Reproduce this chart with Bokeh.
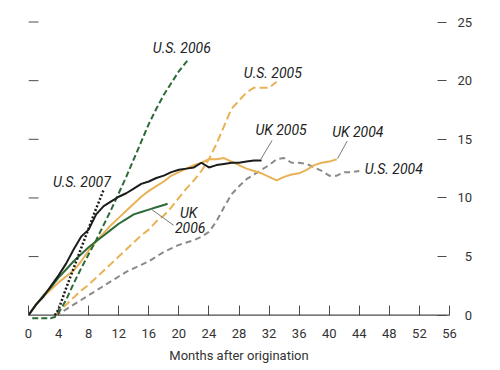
import math
from bokeh.plotting import figure
from bokeh.models import Range1d, FixedTicker, ColumnDataSource, Span
from bokeh.core.properties import value
from bokeh.embed import file_html
from bokeh.resources import INLINE

# ---- data (percent, by months after origination) ----
m_uk2006 = [0, 1, 2, 3, 4, 5, 6, 7, 8, 9, 10, 11, 12, 13, 14, 15, 16, 17, 18, 18.5]
uk2006 = [0, 0.9, 1.7, 2.4, 3.2, 3.9, 4.6, 5.2, 5.8, 6.3, 6.8, 7.3, 7.8, 8.2, 8.6, 8.8, 9.0, 9.2, 9.4, 9.5]

m_uk2005 = list(range(0, 32))
uk2005 = [0, 0.9, 1.6, 2.5, 3.4, 4.4, 5.6, 6.7, 7.3, 8.6, 9.3, 9.7, 10.1, 10.4, 10.8, 11.2,
          11.4, 11.7, 11.9, 12.2, 12.4, 12.5, 12.6, 13.0, 12.6, 12.8, 12.9, 13.0, 13.0, 13.1, 13.2, 13.2]

m_uk2004 = list(range(0, 42))
uk2004 = [0, 0.9, 1.6, 2.2, 2.8, 3.3, 3.8, 4.6, 5.5, 6.3, 7.0, 7.7, 8.3, 8.9, 9.5, 10.1, 10.6,
          11.0, 11.4, 11.9, 12.2, 12.5, 12.8, 13.0, 13.3, 13.3, 13.4, 13.1, 12.8, 12.5, 12.3,
          12.1, 11.8, 11.5, 11.8, 12.0, 12.1, 12.4, 12.8, 13.0, 13.1, 13.3]

m_us2007 = [3.5, 4, 5, 6, 7, 8, 9, 10]
us2007 = [0, 0.5, 2.3, 4.0, 5.7, 7.4, 9.1, 10.7]

m_us2006 = [0.5, 1, 2, 3, 3.5, 4, 5, 6, 7, 8, 9, 10, 11, 12, 13, 14, 15, 16, 17, 18, 19, 20, 21, 21.3]
us2006 = [-0.25, -0.25, -0.25, -0.25, -0.15, 0.2, 1.3, 2.7, 4.0, 5.2, 6.4, 7.7, 9.0, 10.4, 11.8,
          13.3, 14.8, 16.3, 17.6, 18.8, 19.8, 20.8, 21.6, 21.9]

m_us2005 = [3.5] + list(range(4, 34))
us2005 = [0, 0.3, 0.9, 1.5, 2.1, 2.6, 3.2, 3.8, 4.4, 5.0, 5.6, 6.2, 6.8, 7.3, 8.0, 8.5, 9.2,
          10.0, 10.8, 11.5, 12.3, 13.3, 14.6, 16.1, 17.6, 18.3, 19.0, 19.4, 19.4, 19.4, 19.9]

m_us2004 = [3.5] + list(range(4, 45))
us2004 = [0, 0.1, 0.5, 0.9, 1.3, 1.7, 2.1, 2.5, 2.9, 3.3, 3.7, 4.0, 4.3, 4.6, 5.0, 5.4, 5.7,
          6.0, 6.2, 6.4, 6.7, 7.1, 8.0, 9.2, 10.3, 11.0, 11.6, 12.0, 12.4, 12.8, 13.3, 13.4,
          13.0, 13.0, 12.9, 12.6, 12.3, 11.9, 11.9, 12.2, 12.2, 12.3]

x_ticks = list(range(0, 57, 4))
y_ticks = [0, 5, 10, 15, 20, 25]
y_tick_labels = {0: "\u20070", 5: "\u20075", 10: "10", 15: "15", 20: "20", 25: "25"}

label_text = ["U.S. 2006", "U.S. 2005", "UK 2005", "UK 2004", "U.S. 2004", "U.S. 2007", "UK", "2006"]
label_x = [20.4, 32.5, 33.6, 43.8, 48.6, 7.1, 21.3, 21.5]
label_y = [22.8, 20.65, 15.8, 15.6, 12.5, 11.4, 8.73, 7.45]

leader_x0 = [32.4, 42.4, 19.3]
leader_y0 = [14.9, 14.85, 7.67]
leader_x1 = [30.9, 41.1, 16.2]
leader_y1 = [13.3, 13.35, 9.1]

BLACK = "#1c1c1c"
GREEN = "#2c6b36"
GOLD = "#e8b255"
GRAY = "#8a8a8a"
AX = "#4a4a4a"

p = figure(width=500, height=365, x_range=Range1d(0, 56), y_range=Range1d(-0.45, 25.3),
           output_backend="svg", toolbar_location=None, y_axis_location="right",
           min_border_left=28, min_border_right=51, min_border_top=18, min_border_bottom=45)
p.outline_line_color = None
p.xgrid.visible = False
p.ygrid.visible = False
p.background_fill_color = "white"
p.border_fill_color = "white"

# x axis: ticks rise from the zero line, which is drawn as a span
xa = p.xaxis[0]
xa.ticker = FixedTicker(ticks=x_ticks)
xa.major_tick_in = 15
xa.major_tick_out = -5
xa.minor_tick_line_color = None
xa.axis_line_color = None
xa.major_tick_line_color = AX
xa.major_label_text_font = "Roboto"
xa.major_label_text_font_size = "13px"
xa.major_label_text_color = "#333333"
xa.major_label_standoff = 8
xa.axis_label = "Months after origination"
xa.axis_label_text_font = "Roboto"
xa.axis_label_text_font_size = "13px"
xa.axis_label_text_font_style = "normal"
xa.axis_label_text_color = "#333333"
xa.axis_label_standoff = 7

# right axis
ra = p.yaxis[0]
ra.ticker = FixedTicker(ticks=y_ticks)
ra.axis_line_color = None
ra.major_tick_in = 12
ra.major_tick_out = -3
ra.minor_tick_line_color = None
ra.major_tick_line_color = AX
ra.major_label_overrides = y_tick_labels
ra.major_label_text_font = "Roboto"
ra.major_label_text_font_size = "13px"
ra.major_label_text_color = "#333333"
ra.major_label_standoff = 8

# zero line
p.add_layout(Span(location=0, dimension="width", line_color=AX, line_width=1.2, level="underlay"))

# left-side tick dashes
p.ray(x=[0] * len(y_ticks[1:]), y=y_ticks[1:], length=10, length_units="screen", angle=0,
      line_color=AX, line_width=1)

# series
p.line(m_us2004, us2004, line_color=GRAY, line_width=2, line_dash="6 4")
p.line(m_us2005, us2005, line_color=GOLD, line_width=2, line_dash="8 4")
p.line(m_uk2004, uk2004, line_color=GOLD, line_width=2)
p.line(m_us2006, us2006, line_color=GREEN, line_width=2, line_dash="6 3")
p.line(m_uk2006, uk2006, line_color=GREEN, line_width=2)
p.line(m_uk2005, uk2005, line_color=BLACK, line_width=2)
p.line(m_us2007, us2007, line_color=BLACK, line_width=2.5, line_dash="2 2")

# leaders
p.segment(leader_x0, leader_y0, leader_x1, leader_y1, line_color="#7a7a7a", line_width=1)

# labels
src = ColumnDataSource(dict(x=label_x, y=label_y, t=label_text))
p.text(x="x", y="y", text="t", source=src, text_font=value("Roboto"), text_font_style="italic",
       text_font_size="14px", text_align="center", text_baseline="middle", text_color="#222222")

open("out.html", "w").write(file_html(p, INLINE))
